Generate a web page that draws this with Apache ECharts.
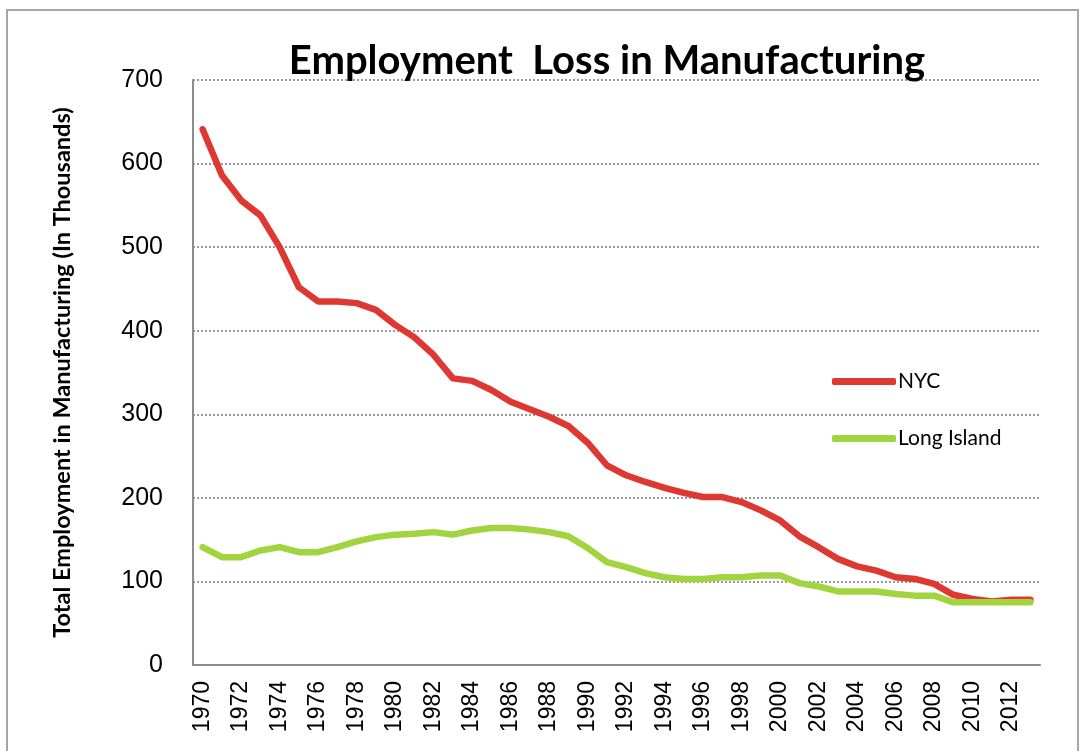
<!DOCTYPE html>
<html>
<head>
<meta charset="utf-8">
<script src="https://cdn.jsdelivr.net/npm/echarts@6/dist/echarts.min.js"></script>
<style>
html,body{margin:0;padding:0;background:#fff;}
#chart{width:1081px;height:751px;}
</style>
</head>
<body>
<div id="chart"></div>
<script>
const years = [];
for (let y = 1970; y <= 2013; y++) years.push(String(y));

const nycValues = [641, 586, 556, 538, 500, 452, 435, 435, 433, 425,
  407, 392, 371, 343, 340, 329, 315, 306, 297, 286,
  266, 239, 227, 219, 212, 206, 201, 201, 195, 185,
  173, 154, 141, 127, 118, 113, 105, 103, 97, 84,
  79, 76, 78, 78];

const longIslandValues = [141, 129, 129, 137, 141, 135, 135, 141, 148, 153,
  156, 157, 159, 156, 161, 164, 164, 162, 159, 154,
  140, 123, 117, 110, 105, 103, 103, 105, 105, 107,
  107, 98, 94, 88, 88, 88, 85, 83, 83, 75,
  75, 75, 75, 75];

const seriesNames = ['NYC', 'Long Island'];
const titleText = 'Employment  Loss in Manufacturing';
const yAxisName = 'Total Employment in Manufacturing (In Thousands)';

const chart = echarts.init(document.getElementById('chart'), null, {renderer: 'canvas'});
chart.setOption({
  animation: false,
  backgroundColor: '#ffffff',
  title: {
    text: titleText,
    left: 602,
    textAlign: 'center',
    top: 36,
    textStyle: {fontFamily: 'Lato', fontWeight: 'bold', fontSize: 40, color: '#000'}
  },
  graphic: [{
    type: 'rect',
    shape: {x: 7, y: 10, width: 1071, height: 760},
    style: {fill: 'none', stroke: '#a6a6a6', lineWidth: 2},
    silent: true,
    z: -1
  }],
  legend: {
    orient: 'vertical',
    left: 827,
    top: 366,
    itemWidth: 64,
    itemHeight: 7,
    itemGap: 36,
    icon: 'roundRect',
    textStyle: {fontFamily: 'Lato', fontSize: 21, color: '#000', padding: [0, 0, 0, -3]},
    data: seriesNames
  },
  grid: {left: 193, top: 80, width: 847, height: 585, containLabel: false},
  xAxis: {
    type: 'category',
    data: years,
    boundaryGap: true,
    axisLine: {lineStyle: {color: '#8c8c8c', width: 2}},
    axisTick: {show: false},
    axisLabel: {
      interval: 1,
      rotate: 90,
      margin: 16,
      fontFamily: 'Liberation Sans',
      fontSize: 23,
      color: '#000'
    },
    splitLine: {show: false}
  },
  yAxis: {
    type: 'value',
    min: 0,
    max: 700,
    interval: 100,
    name: yAxisName,
    nameLocation: 'middle',
    nameGap: 119,
    nameRotate: 90,
    nameTextStyle: {fontFamily: 'Lato', fontWeight: 'bold', fontSize: 23.5, color: '#000'},
    axisLine: {show: true, lineStyle: {color: '#8c8c8c', width: 2}},
    axisTick: {show: false},
    axisLabel: {margin: 30, fontFamily: 'Liberation Sans', fontSize: 25, color: '#000'},
    splitLine: {lineStyle: {color: '#9a9a9a', width: 2, type: [2, 2]}}
  },
  series: [
    {
      name: seriesNames[0],
      type: 'line',
      data: nycValues,
      symbol: 'none',
      color: '#DE3832',
      lineStyle: {width: 6.5, cap: 'round', join: 'round'},
      z: 2
    },
    {
      name: seriesNames[1],
      type: 'line',
      data: longIslandValues,
      symbol: 'none',
      color: '#A2D43F',
      lineStyle: {width: 6.5, cap: 'round', join: 'round'},
      z: 3
    }
  ]
});
</script>
</body>
</html>
